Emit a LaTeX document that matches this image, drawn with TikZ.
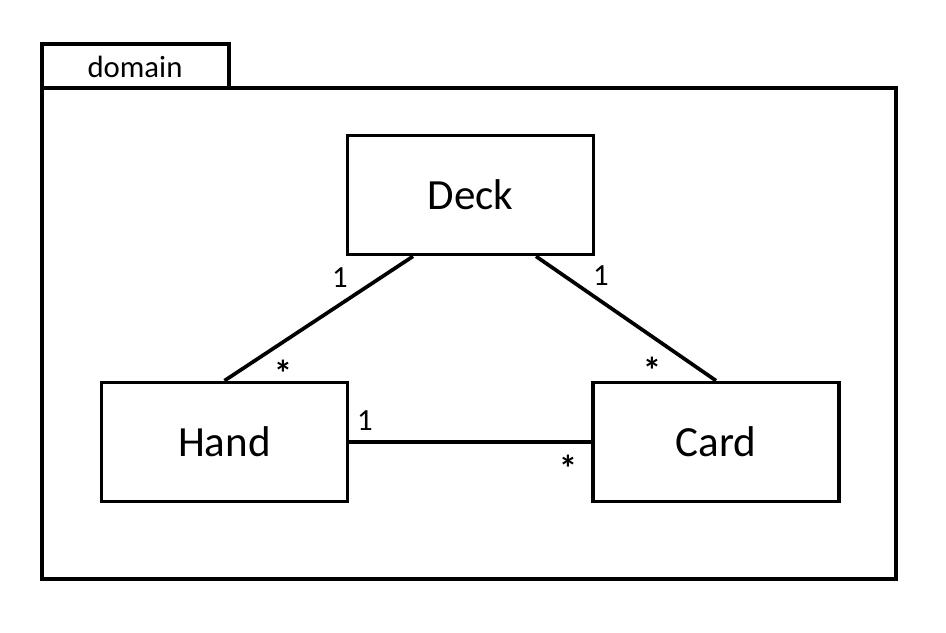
\documentclass[tikz,border=0pt]{standalone}
\usepackage{fontspec}
\setmainfont{Carlito}
\usetikzlibrary{calc}

\tikzset{
  classbox/.style={draw, line width=2.1pt, minimum width=4.92cm, minimum height=2.38cm, font=\fontsize{24.5}{28}\selectfont},
  mult/.style={font=\fontsize{17.5}{20}\selectfont, inner sep=0pt},
  starmult/.style={font=\bfseries\fontsize{21}{24}\selectfont, inner sep=0pt},
  assoc/.style={line width=2.1pt}
}

\begin{document}
\begin{tikzpicture}
  \useasboundingbox (0cm,0cm) rectangle (18.92cm,-12.64cm);
  \filldraw[fill=white, line width=2.1pt] (0.84cm,-0.88cm) rectangle (4.58cm,-1.76cm);
  \node (pkgname) at (2.7cm,-1.33cm) {\fontsize{17.5}{20}\selectfont domain};
  \filldraw[fill=white, line width=2.1pt] (0.84cm,-1.76cm) rectangle (17.92cm,-11.58cm);
  \node[classbox] (deck) at (9.41cm,-3.9cm) {Deck};
  \node[classbox] (hand) at (4.49cm,-8.84cm) {Hand};
  \node[classbox] (card) at (14.32cm,-8.84cm) {Card};
  \draw[assoc] ($(deck.south)+(-1.15cm,0)$) -- (hand.north);
  \draw[assoc] ($(deck.south)+(1.31cm,0)$) -- (card.north);
  \draw[assoc] (hand.east) -- (card.west);
  \node[mult] (m1) at (6.8cm,-5.56cm) {1};
  \node[starmult] (m2) at (5.66cm,-7.46cm) {*};
  \node[mult] (m3) at (12.02cm,-5.52cm) {1};
  \node[starmult] (m4) at (13.04cm,-7.4cm) {*};
  \node[mult] (m5) at (7.3cm,-8.42cm) {1};
  \node[starmult] (m6) at (11.36cm,-9.36cm) {*};
\end{tikzpicture}
\end{document}
